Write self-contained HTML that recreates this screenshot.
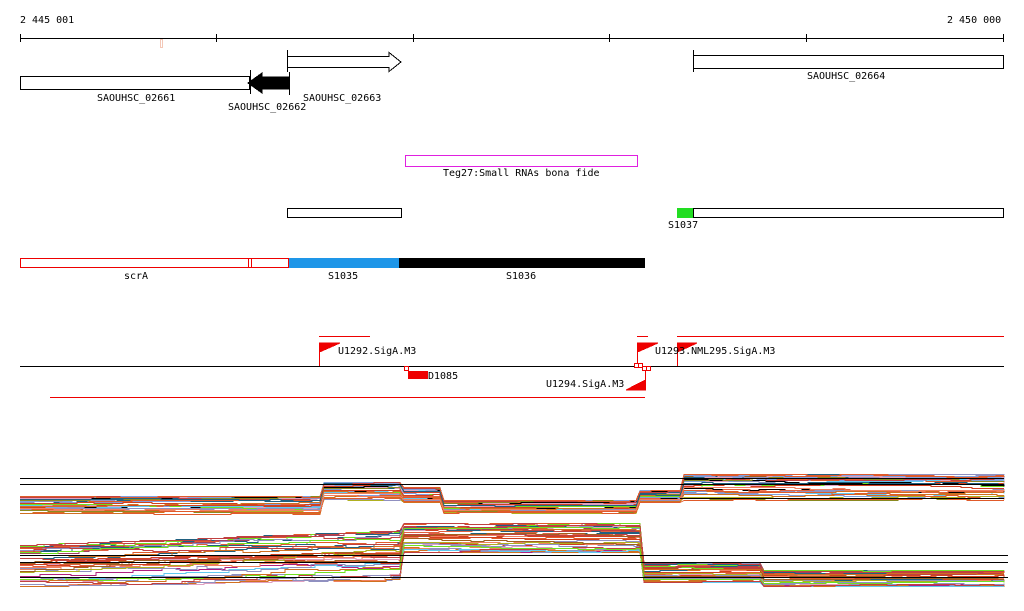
<!DOCTYPE html>
<html><head><meta charset="utf-8"><style>
html,body{margin:0;padding:0;background:#fff;width:1024px;height:611px;overflow:hidden}
svg{display:block}
text{font-family:"DejaVu Sans Mono","Liberation Mono",monospace;font-size:10px;fill:#000}
</style></head><body>
<svg id="s" width="1024" height="611" viewBox="0 0 1024 611" xmlns="http://www.w3.org/2000/svg" shape-rendering="crispEdges">
<text x="20" y="23">2 445 001</text>
<text x="947" y="23">2 450 000</text>
<line x1="20" y1="38.5" x2="1004" y2="38.5" stroke="#000"/>
<g stroke="#000"><line x1="20.5" y1="34" x2="20.5" y2="42"/><line x1="216.5" y1="34" x2="216.5" y2="42"/><line x1="413.5" y1="34" x2="413.5" y2="42"/><line x1="609.5" y1="34" x2="609.5" y2="42"/><line x1="806.5" y1="34" x2="806.5" y2="42"/><line x1="1003.5" y1="34" x2="1003.5" y2="42"/></g>
<rect x="160.5" y="39.5" width="2" height="8" fill="none" stroke="#f4c8b8"/>
<rect x="20.5" y="76.5" width="229" height="13" fill="#fff" stroke="#000"/>
<polygon points="289,77 262,77 262,73 248,83 262,93 262,89 289,89" fill="#000" stroke="#000"/>
<line x1="250.5" y1="70" x2="250.5" y2="94" stroke="#000"/>
<line x1="289.5" y1="72" x2="289.5" y2="95" stroke="#000"/>
<polygon points="287.5,56.5 389,56.5 389,52.5 401,62 389,71.5 389,67.5 287.5,67.5" fill="#fff" stroke="#000"/>
<line x1="287.5" y1="50" x2="287.5" y2="72" stroke="#000"/>
<rect x="693.5" y="55.5" width="310" height="13" fill="#fff" stroke="#000"/>
<line x1="693.5" y1="50" x2="693.5" y2="72" stroke="#000"/>
<text x="97" y="101">SAOUHSC_02661</text>
<text x="228" y="110">SAOUHSC_02662</text>
<text x="303" y="101">SAOUHSC_02663</text>
<text x="807" y="79">SAOUHSC_02664</text>
<rect x="405.5" y="155.5" width="232" height="11" fill="#fff" stroke="#e020e0"/>
<text x="443" y="176">Teg27:Small RNAs bona fide</text>
<rect x="287.5" y="208.5" width="114" height="9" fill="#fff" stroke="#000"/>
<rect x="677" y="208" width="16" height="10" fill="#22dd22"/>
<rect x="693.5" y="208.5" width="310" height="9" fill="#fff" stroke="#000"/>
<text x="668" y="228">S1037</text>
<rect x="20.5" y="258.5" width="268" height="9" fill="#fff" stroke="#e00"/>
<line x1="248.5" y1="258" x2="248.5" y2="268" stroke="#e00"/><line x1="251.5" y1="258" x2="251.5" y2="268" stroke="#e00"/>
<rect x="289" y="258" width="110" height="10" fill="#1e96e8"/>
<rect x="399" y="258" width="246" height="10" fill="#000"/>
<text x="124" y="279">scrA</text>
<text x="328" y="279">S1035</text>
<text x="506" y="279">S1036</text>
<g stroke="#e00"><line x1="319" y1="336.5" x2="370" y2="336.5"/><line x1="637" y1="336.5" x2="648" y2="336.5"/><line x1="677" y1="336.5" x2="1004" y2="336.5"/><line x1="50" y1="397.5" x2="645" y2="397.5"/></g>
<line x1="20" y1="366.5" x2="1004" y2="366.5" stroke="#000"/>
<g fill="#e00" stroke="#e00">
<polygon points="319.5,343 340,343 319.5,352"/><line x1="319.5" y1="343" x2="319.5" y2="366"/>
<polygon points="637.5,343 658,343 637.5,352"/><line x1="637.5" y1="343" x2="637.5" y2="366"/>
<polygon points="677.5,343 697,343 677.5,352"/><line x1="677.5" y1="343" x2="677.5" y2="366"/>
<polygon points="645.5,380 645.5,390 626,390"/><line x1="645.5" y1="366" x2="645.5" y2="390"/>
<rect x="408" y="371" width="20" height="8" stroke="none"/>
</g>
<g fill="#fff" stroke="#e00"><rect x="404.5" y="366.5" width="4" height="4"/><rect x="634.5" y="363.5" width="4" height="4"/><rect x="638.5" y="363.5" width="4" height="4"/><rect x="642.5" y="366.5" width="4" height="4"/><rect x="646.5" y="366.5" width="4" height="4"/></g>
<text x="338" y="354">U1292.SigA.M3</text>
<text x="655" y="354">U1293.NML295.SigA.M3</text>
<text x="428" y="379">D1085</text>
<text x="546" y="387">U1294.SigA.M3</text>
<g id="lines" fill="none" stroke-width="1"></g>
<g stroke="#000"><line x1="20" y1="478.5" x2="1004" y2="478.5"/><line x1="20" y1="484.5" x2="1004" y2="484.5"/><line x1="680" y1="498.5" x2="1004" y2="498.5"/><line x1="20" y1="555.5" x2="1008" y2="555.5"/><line x1="20" y1="562.5" x2="1008" y2="562.5"/><line x1="20" y1="577.5" x2="1008" y2="577.5"/></g>
</svg>
<script>
(function(){
var seed=11;function r(){seed=(seed*16807)%2147483647;return (seed-1)/2147483646;}
var cols=["#e05a2a","#8a8a20","#b02080","#80a0e0","#60c8f0","#f08060","#a06020","#70e020","#c04040","#d07020","#000","#e0a0c0","#9090c0","#d04020","#206080","#b0b020","#e06040","#a04060"];
var g=document.getElementById("lines"),ns="http://www.w3.org/2000/svg";
function poly(pts,c){var p=document.createElementNS(ns,"polyline");var s="";var py=null;for(var i=0;i<pts.length;i++){var y=Math.round(pts[i][1])+0.5;if(py!==null&&i>0&&pts[i][2])s+=pts[i][0]+","+py+" ";s+=pts[i][0]+","+y+" ";py=y;}p.setAttribute("points",s);p.setAttribute("stroke",c);g.appendChild(p);}
function make(segs,N){
 for(var n=0;n<N;n++){var t=r(),pts=[],c=cols[Math.floor(r()*cols.length)];
  for(var k=0;k<segs.length;k++){var s=segs[k];var u=Math.min(1,Math.max(0,t+(r()-0.5)*0.3));
   var lo0=s[2],hi0=s[3],lo1=s[4]!==undefined?s[4]:s[2],hi1=s[5]!==undefined?s[5]:s[3];
   var first=true;
   for(var x=s[0];x<s[1];x+=10+Math.floor(r()*25)){var f=(x-s[0])/(s[1]-s[0]);var lo=lo0+(lo1-lo0)*f,hi=hi0+(hi1-hi0)*f;
     var y=lo+(hi-lo)*u;pts.push([x,y,!first]);first=false;u=Math.min(1,Math.max(0,u+(r()-0.5)*0.1));}
   pts.push([s[1],lo1+(hi1-lo1)*u,true]);}
  poly(pts,c);}
}
make([[20,320,496,514],[324,400,482,500],[404,440,487,503],[444,636,500,513],[640,680,490,502],[684,1004,474,500]],40);
make([[20,400,545,586,530,580],[404,640,523,552],[644,760,562,582],[764,1004,570,586]],40);
})();
</script>
</body></html>
